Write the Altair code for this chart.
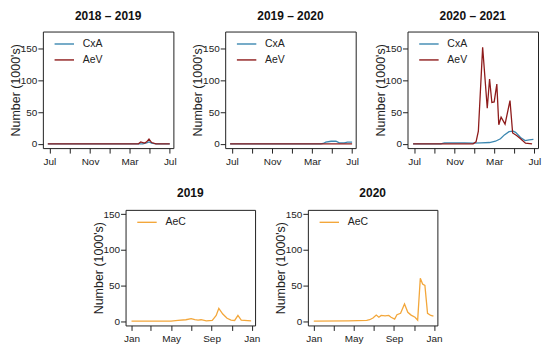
import altair as alt
import pandas as pd

# ---------------- data (values in thousands) ----------------
# 2018 – 2019
cxa_1819_dates = ["2018-06-26", "2019-04-10", "2019-04-22", "2019-04-29", "2019-05-07", "2019-05-20", "2019-07-01"]
cxa_1819_vals = [0, 0, 1.5, 3, 1, 0, 0]
aev_1819_dates = ["2018-06-26", "2019-03-28", "2019-04-04", "2019-04-10", "2019-04-16", "2019-04-22",
                  "2019-04-29", "2019-05-07", "2019-05-20", "2019-07-01"]
aev_1819_vals = [0, 0, 3, 2, 1, 3, 7.5, 2, 0, 0]

# 2019 – 2020
cxa_1920_dates = ["2019-06-26", "2020-03-28", "2020-04-04", "2020-04-12", "2020-04-28", "2020-05-13",
                  "2020-05-23", "2020-06-07", "2020-06-17", "2020-07-01"]
cxa_1920_vals = [0, 0, 0.5, 2.5, 4, 4, 1.5, 1.5, 2.5, 2.5]
aev_1920_dates = ["2019-06-26", "2020-07-01"]
aev_1920_vals = [0, 0]

# 2020 – 2021
cxa_2021_dates = ["2020-06-28", "2020-09-20", "2020-10-01", "2020-12-01", "2020-12-28", "2021-01-20",
                  "2021-02-15", "2021-03-05", "2021-03-20", "2021-04-01", "2021-04-15", "2021-04-28",
                  "2021-05-05", "2021-05-20", "2021-06-03", "2021-06-15", "2021-06-28"]
cxa_2021_vals = [0, 0, 1.5, 1.5, 1, 1.5, 2, 4, 8, 14, 19, 20, 18, 10, 5, 6, 7]
aev_2021_dates = ["2020-06-28", "2020-12-27", "2021-01-05", "2021-01-12", "2021-01-25", "2021-02-08",
                  "2021-02-15", "2021-02-22", "2021-03-01", "2021-03-09", "2021-03-15", "2021-03-22",
                  "2021-04-03", "2021-04-18", "2021-04-26", "2021-05-08", "2021-05-20", "2021-06-04",
                  "2021-06-24"]
aev_2021_vals = [0, 0, 3, 20, 152, 56, 102, 65, 66, 94, 30, 42, 31, 68, 17, 13, 8, 1, 0]

# AeC 2019
aec_2019_dates = ["2019-01-01", "2019-05-01", "2019-05-22", "2019-06-15", "2019-07-01", "2019-07-12",
                  "2019-07-22", "2019-07-31", "2019-08-16", "2019-09-03", "2019-09-08", "2019-09-15",
                  "2019-09-23", "2019-10-05", "2019-10-18", "2019-10-30", "2019-11-10", "2019-11-20",
                  "2019-11-30", "2019-12-30"]
aec_2019_vals = [0, 0, 1, 2, 3.5, 2, 1.5, 2, 0.5, 1, 4, 8, 18, 10, 4, 1.5, 1, 8, 1.5, 0.5]

# AeC 2020
aec_2020_dates = ["2020-01-01", "2020-04-15", "2020-06-10", "2020-06-19", "2020-06-29", "2020-07-09",
                  "2020-07-17", "2020-07-24", "2020-08-05", "2020-08-16", "2020-08-23", "2020-09-03",
                  "2020-09-10", "2020-09-21", "2020-10-03", "2020-10-13", "2020-10-23", "2020-11-04",
                  "2020-11-12", "2020-11-20", "2020-11-27", "2020-12-04", "2020-12-12", "2020-12-22",
                  "2020-12-30"]
aec_2020_vals = [0, 0.5, 1, 2, 4.5, 8.5, 5.5, 8, 7.5, 8, 5.5, 3, 9, 11, 24, 12.5, 8.5, 5.5, 1.5,
                 60, 52, 50, 11, 8, 7]

series_names = ["CxA", "AeV"]
season_titles = ["2018 – 2019", "2019 – 2020", "2020 – 2021"]
year_titles = ["2019", "2020"]
y_ticks = [0, 50, 100, 150]
y_title = "Number (1000's)"

# ---------------- styling ----------------
BLUE = "#3b87b0"
RED = "#8e1b1b"
ORANGE = "#f3a73b"
FONT = "Liberation Sans"
INK = "#222222"


def ms(s):
    return int(pd.Timestamp(s, tz="UTC").value // 10**6)


def frame(pairs):
    rows = []
    for name, dates, vals in pairs:
        for d, v in zip(dates, vals):
            rows.append({"date": d, "value": v, "series": name})
    return pd.DataFrame(rows)


def month_ticks(start_year, start_month):
    out = []
    y, m = start_year, start_month
    for _ in range(7):
        out.append(ms(f"{y}-{m:02d}-01"))
        m += 2
        if m > 12:
            m -= 12
            y += 1
    return out


def x_axis(ticks, shown):
    expr = ("indexof([" + ",".join(f"'{s}'" for s in shown) + "], utcFormat(datum.value, '%b')) >= 0 "
            "? utcFormat(datum.value, '%b') : ''")
    return alt.Axis(values=ticks, labelExpr=expr, tickSize=5, labelPadding=3, grid=False, domain=False,
                    labelFontSize=10, labelOverlap=False, labelFlush=False, title=None)


def y_axis():
    return alt.Axis(values=y_ticks, tickSize=5, labelPadding=1, grid=False, domain=False,
                    labelFontSize=10, titleFontSize=12.5, titleFontWeight="normal", title=y_title,
                    titleX=-23.5, titleBaseline="alphabetic")


def legend():
    return alt.Legend(title=None, orient="none", legendX=11, legendY=2, symbolType="stroke",
                      symbolSize=380, symbolStrokeWidth=1.4, labelFontSize=10.5, labelOffset=8,
                      rowPadding=-6, labelFont=FONT, labelColor=INK)


def panel(df, title, dom, ticks, shown, ydom, names, colors, w, h):
    return alt.Chart(df).mark_line(strokeWidth=1.3, clip=True).encode(
        x=alt.X("date:T", scale=alt.Scale(type="utc", domain=dom, nice=False), axis=x_axis(ticks, shown)),
        y=alt.Y("value:Q", scale=alt.Scale(domain=ydom, nice=False, zero=False), axis=y_axis()),
        color=alt.Color("series:N", scale=alt.Scale(domain=names, range=colors), legend=legend()),
    ).properties(width=w, height=h,
                 title=alt.TitleParams(title, fontSize=12, fontWeight="bold", font=FONT, color="#111",
                                       anchor="middle", offset=9))


top_data = [
    frame([("CxA", cxa_1819_dates, cxa_1819_vals), ("AeV", aev_1819_dates, aev_1819_vals)]),
    frame([("CxA", cxa_1920_dates, cxa_1920_vals), ("AeV", aev_1920_dates, aev_1920_vals)]),
    frame([("CxA", cxa_2021_dates, cxa_2021_vals), ("AeV", aev_2021_dates, aev_2021_vals)]),
]
top_panels = []
for i, (df, t) in enumerate(zip(top_data, season_titles)):
    y0 = 2018 + i
    dom = [ms(f"{y0}-06-11"), ms(f"{y0 + 1}-07-12")]
    top_panels.append(panel(df, t, dom, month_ticks(y0, 7), ["Jul", "Nov", "Mar"], [-6.8, 176.8],
                            series_names, [BLUE, RED], 131, 117))

bot_data = [frame([("AeC", aec_2019_dates, aec_2019_vals)]),
            frame([("AeC", aec_2020_dates, aec_2020_vals)])]
bot_panels = []
for i, (df, t) in enumerate(zip(bot_data, year_titles)):
    y0 = 2019 + i
    dom = [ms(f"{y0 - 1}-12-14"), ms(f"{y0 + 1}-01-11")]
    bot_panels.append(panel(df, t, dom, month_ticks(y0, 1), ["Jan", "May", "Sep"], [-6, 156],
                            ["AeC"], [ORANGE], 130, 116))

spacer = alt.Chart(pd.DataFrame({"v": [0]})).mark_point(opacity=0).encode(
    x=alt.X("v:Q", axis=None), y=alt.Y("v:Q", axis=None)
).properties(width=30, height=116, view=alt.ViewBackground(strokeOpacity=0))


def indep(c):
    return c.resolve_scale(x="independent", y="independent", color="independent").resolve_legend(
        color="independent").resolve_axis(x="independent", y="independent")


top_row = indep(alt.hconcat(*top_panels, spacing=52, bounds="flush"))
bot_row = indep(alt.hconcat(spacer, *bot_panels, spacing=53, bounds="flush"))

chart = indep(alt.vconcat(top_row, bot_row, spacing=19)).properties(
    padding={"left": 0, "top": 0, "right": 0, "bottom": 0}
).configure_view(stroke=INK, strokeWidth=1).configure_axis(
    labelFont=FONT, titleFont=FONT, labelColor=INK, titleColor=INK, tickColor=INK
).configure_legend(labelFont=FONT, labelColor=INK)

chart.save("out.html", embed_options={"renderer": "svg", "actions": False})
